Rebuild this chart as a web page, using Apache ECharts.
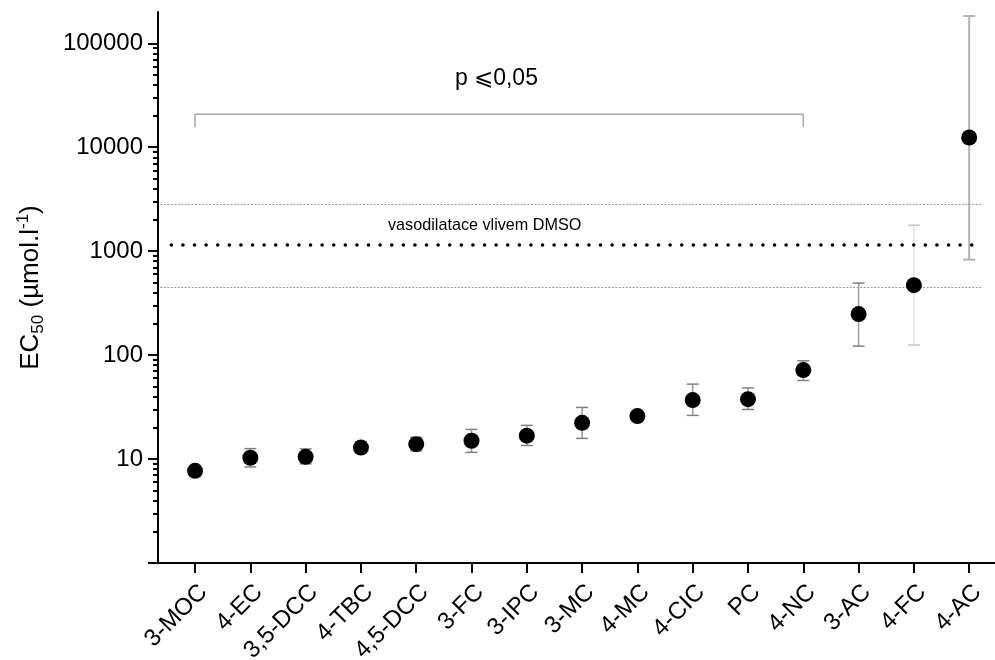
<!DOCTYPE html>
<html>
<head>
<meta charset="utf-8">
<script src="https://cdn.jsdelivr.net/npm/echarts@6/dist/echarts.min.js"></script>
<style>
  html, body { margin: 0; padding: 0; background: #fff; }
  #chart { width: 995px; height: 660px; }
</style>
</head>
<body>
<div id="chart"></div>
<script>
// compounds on the x axis
const categories = ['3-MOC', '4-EC', '3,5-DCC', '4-TBC', '4,5-DCC', '3-FC', '3-IPC', '3-MC',
  '4-MC', '4-CIC', 'PC', '4-NC', '3-AC', '4-FC', '4-AC'];
// EC50 means (µmol/l) and error bar ends
const ec50 = [7.7, 10.3, 10.5, 12.9, 13.9, 15.0, 16.8, 22.3, 25.9, 36.9, 37.7, 71.8, 248, 471, 12400];
const errLow = [null, 8.4, 9.0, 11.6, 12.0, 11.6, 13.5, 15.8, null, 26.3, 30.0, 57.0, 122, 125, 830];
const errHigh = [null, 12.6, 12.5, 14.7, 16.2, 19.3, 21.1, 31.4, null, 52.6, 48.4, 88.1, 493, 1778, 183000];
// DMSO vasodilatation band
const dmsoMean = 1143;
const dmsoUpper = 2830;
const dmsoLower = 451;
// significance bracket (first..last category index, top and foot level)
const bracketFrom = 0;
const bracketTo = 11;
const bracketTop = 20750;
const bracketFoot = 15560;
// y ticks
const yMajor = [1, 10, 100, 1000, 10000, 100000];
const yLabels = [10, 100, 1000, 10000, 100000];
const yMinor = [];
[1, 10, 100, 1000, 10000].forEach(d => {
  for (let k = 2; k <= 9; k++) yMinor.push(d * k);
});

// error bar colours per compound (grey shades)
const barColors = categories.map((c, i) => i === 13 ? '#e4e4e4' : (i === 14 ? '#b3b3b3' : '#9a9a9a'));
const capColors = categories.map((c, i) => i === 13 ? '#c4c4c4' : (i === 14 ? '#b3b3b3' : '#808080'));

const FONT = 'Liberation Sans, Arial, Helvetica, sans-serif';
const idx = categories.map((c, i) => i);
const X0 = -0.67, X1 = 14.467; // axis extent in category units
const LX0 = -0.63, LX1 = 14.25; // reference lines extent

const chart = echarts.init(document.getElementById('chart'));

const errData = idx.filter(i => errLow[i] != null).map(i => [i, errLow[i], errHigh[i]]);

const option = {
  animation: false,
  textStyle: { fontFamily: FONT },
  grid: { left: 158, right: 0, top: 12, bottom: 97, containLabel: false, outerBoundsMode: 'none' },
  xAxis: {
    type: 'value',
    min: X0,
    max: X1,
    splitLine: { show: false },
    axisLine: { onZero: false, lineStyle: { color: '#000', width: 2 } },
    axisTick: { customValues: idx, length: 10, lineStyle: { color: '#000', width: 2 } },
    axisLabel: {
      customValues: idx,
      rotate: 45,
      margin: 17,
      verticalAlign: 'top',
      fontSize: 24,
      color: '#000',
      fontFamily: FONT,
      formatter: v => categories[Math.round(v)]
    }
  },
  yAxis: [
    {
      type: 'log',
      logBase: 10,
      min: 1,
      max: 200000,
      splitLine: { show: false },
      axisLine: { show: true, onZero: false, lineStyle: { color: '#000', width: 2 } },
      axisTick: { customValues: yMajor, length: 10, lineStyle: { color: '#000', width: 2 } },
      axisLabel: {
        customValues: yLabels,
        margin: 15,
        fontSize: 24,
        color: '#000',
        fontFamily: FONT,
        formatter: v => String(Math.round(v))
      },
      name: '{m|EC}{sub|50}{m| (µmol.l}{sup|-1}{m|)}',
      nameLocation: 'middle',
      nameRotate: 90,
      nameGap: 111,
      nameTextStyle: {
        rich: {
          m: { fontSize: 26, lineHeight: 32, color: '#000', fontFamily: FONT },
          sub: { fontSize: 17, lineHeight: 17, verticalAlign: 'bottom', color: '#000', fontFamily: FONT },
          sup: { fontSize: 17, lineHeight: 17, verticalAlign: 'top', color: '#000', fontFamily: FONT }
        }
      }
    },
    {
      type: 'log',
      logBase: 10,
      min: 1,
      max: 200000,
      position: 'left',
      splitLine: { show: false },
      axisLine: { show: false, onZero: false },
      axisTick: { customValues: yMinor, length: 5, lineStyle: { color: '#000', width: 2 } },
      axisLabel: { show: false }
    }
  ],
  graphic: [
    {
      type: 'text', left: 455, top: 67,
      style: { text: 'p ⩽0,05', fontSize: 23, fill: '#000', fontFamily: FONT }
    },
    {
      type: 'text', left: 388, top: 218,
      style: { text: 'vasodilatace vlivem DMSO', fontSize: 16.2, fill: '#000', fontFamily: FONT }
    }
  ],
  series: [
    {
      name: 'ref',
      type: 'line',
      data: [],
      silent: true,
      markLine: {
        silent: true,
        symbol: 'none',
        label: { show: false },
        data: [
          [{ coord: [LX0, dmsoUpper], lineStyle: { color: '#999', width: 1, type: [2, 1.5] } },
           { coord: [LX1, dmsoUpper] }],
          [{ coord: [LX0, dmsoLower], lineStyle: { color: '#999', width: 1, type: [2, 1.5] } },
           { coord: [LX1, dmsoLower] }],
          [{ coord: [LX0 + 0.2, dmsoMean], lineStyle: { color: '#000', width: 3.5, type: [0.1, 11.5], cap: 'round' } },
           { coord: [LX1, dmsoMean] }]
        ]
      }
    },
    {
      name: 'bracket',
      type: 'line',
      silent: true,
      symbol: 'none',
      lineStyle: { color: '#a8a8a8', width: 1.5 },
      data: [[bracketFrom, bracketFoot], [bracketFrom, bracketTop], [bracketTo, bracketTop], [bracketTo, bracketFoot]],
      z: 2
    },
    {
      name: 'SD',
      type: 'custom',
      silent: true,
      data: errData,
      z: 3,
      renderItem: (params, api) => {
        const i = api.value(0);
        const lo = api.coord([i, api.value(1)]);
        const hi = api.coord([i, api.value(2)]);
        const w = 6;
        const lw = i === 14 ? 2 : 1.5;
        return {
          type: 'group',
          children: [
            { type: 'line', shape: { x1: lo[0], y1: lo[1], x2: hi[0], y2: hi[1] },
              style: { stroke: barColors[i], lineWidth: lw } },
            { type: 'line', shape: { x1: hi[0] - w, y1: hi[1], x2: hi[0] + w, y2: hi[1] },
              style: { stroke: capColors[i], lineWidth: lw } },
            { type: 'line', shape: { x1: lo[0] - w, y1: lo[1], x2: lo[0] + w, y2: lo[1] },
              style: { stroke: capColors[i], lineWidth: lw } }
          ]
        };
      }
    },
    {
      name: 'EC50',
      type: 'scatter',
      symbol: 'circle',
      symbolSize: 16,
      itemStyle: { color: '#000', opacity: 1 },
      data: idx.map(i => [i, ec50[i]]),
      z: 5
    }
  ]
};

chart.setOption(option);
window.addEventListener('resize', chart.resize);
</script>
</body>
</html>
